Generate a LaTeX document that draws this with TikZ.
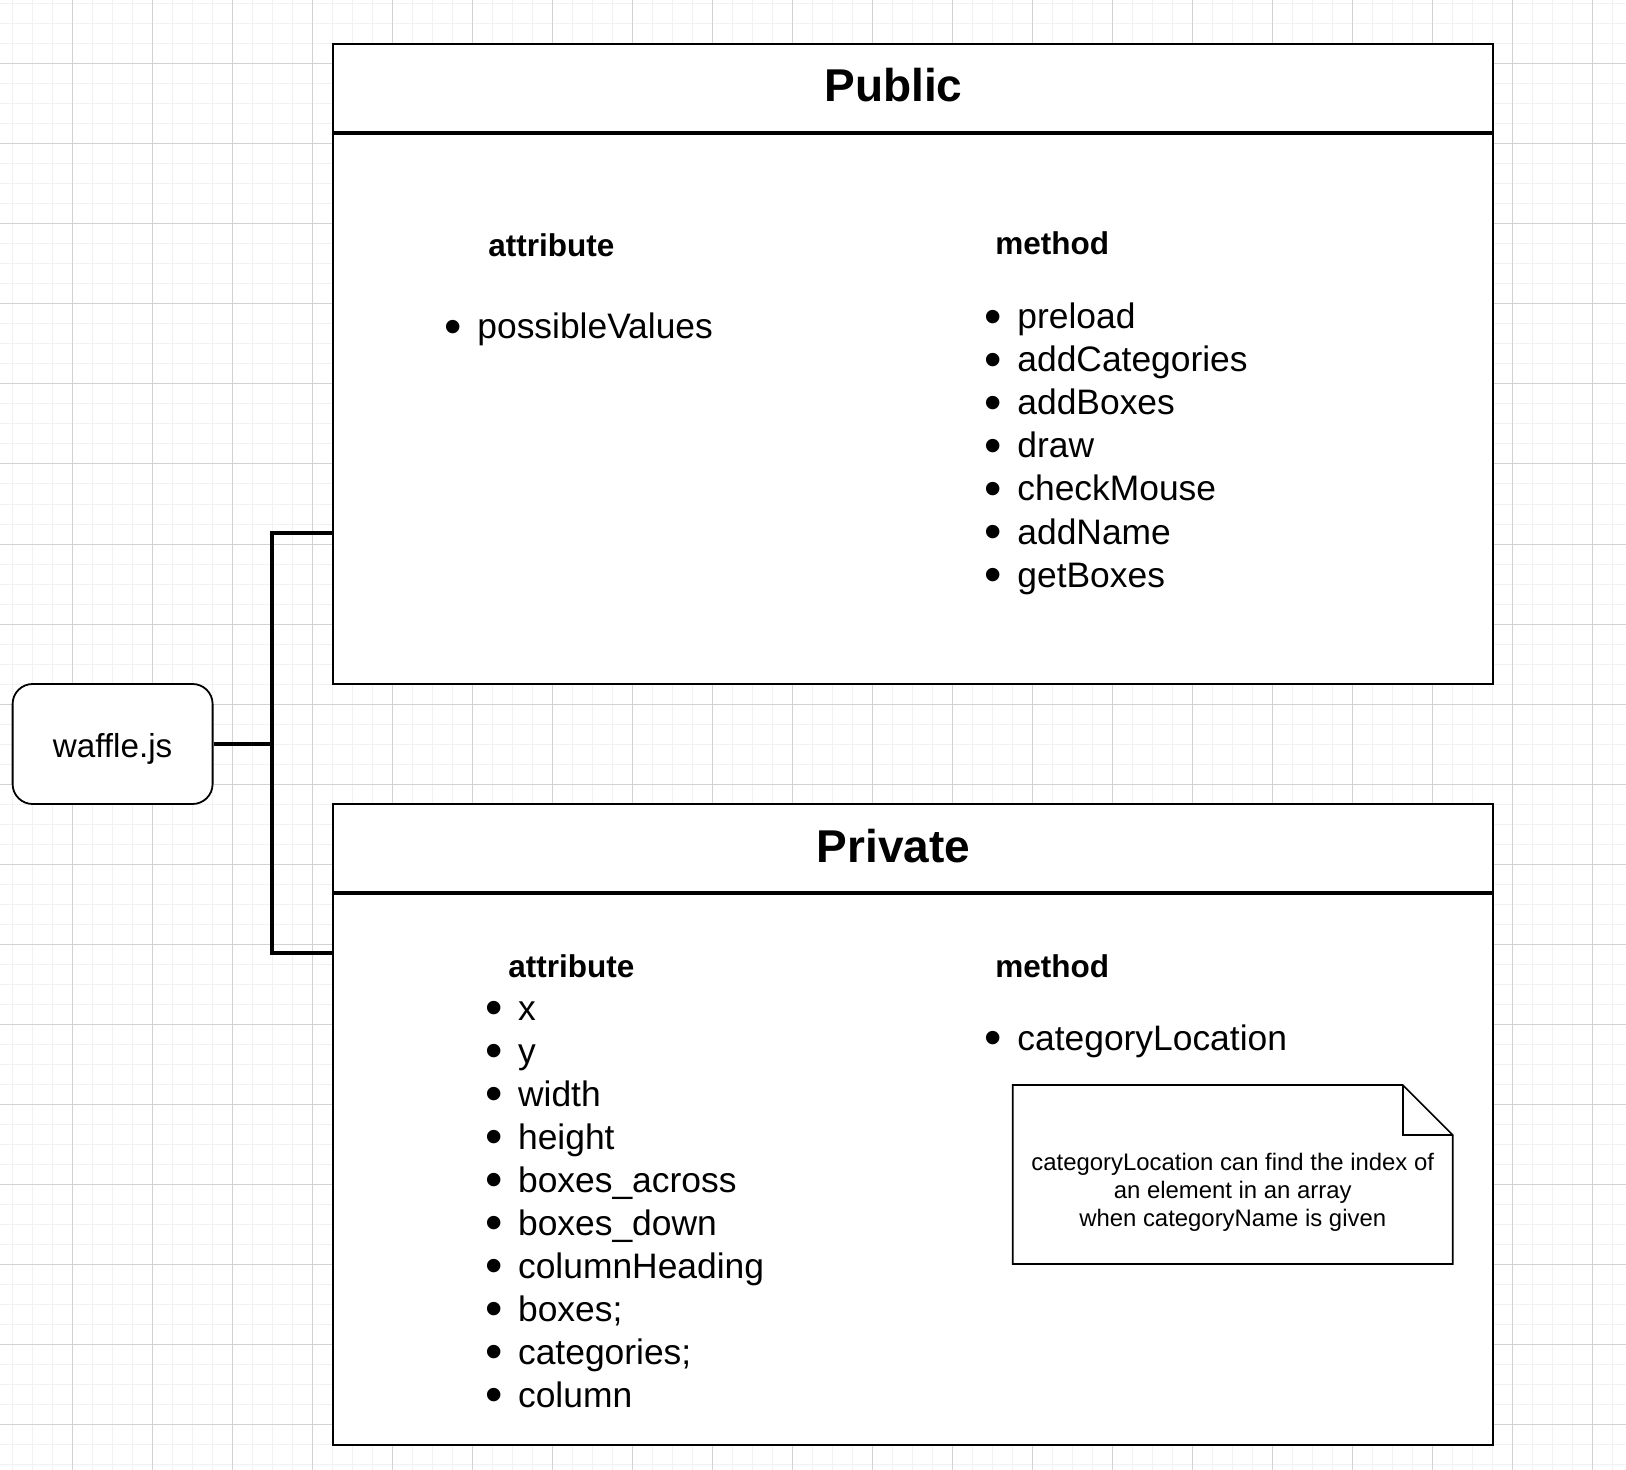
\documentclass[tikz,border=0pt]{standalone}
\usepackage{fontspec}
\setmainfont{Liberation Sans}
\usetikzlibrary{positioning}
\definecolor{gridminor}{RGB}{242,242,242}
\definecolor{gridmajor}{RGB}{210,210,210}
\newcommand{\bul}{\makebox[15.5pt][l]{\kern-0.9pt\smash{\raisebox{-0.13em}{\scalebox{1.4}{\textbullet}}}}}

\begin{document}
\begin{tikzpicture}[x=0.5pt,y=-0.5pt,
  panel/.style={draw,line width=0.95pt,fill=white,minimum width=580pt,inner sep=0pt},
  headline/.style={line width=1.9pt},
  title/.style={anchor=base,inner sep=0pt,yshift=-0.5pt,font=\fontsize{23}{27}\selectfont\bfseries},
  heading/.style={anchor=base west,inner sep=0pt,yshift=-1pt,font=\fontsize{15.75}{19}\selectfont\bfseries},
  entry/.style={anchor=base west,inner sep=0pt,yshift=-1pt,font=\fontsize{17.7}{21.5}\selectfont},
  link/.style={line width=1.8pt}]
\useasboundingbox (0,0) rectangle (1626,1470);
\fill[white] (0,0) rectangle (1626,1470);
\foreach \x in {12.5,32.5,...,1626} \draw[gridminor,line width=0.5pt] (\x,0) -- (\x,1470);
\foreach \y in {4,24,...,1470} \draw[gridminor,line width=0.5pt] (0,\y) -- (1626,\y);
\foreach \x in {72.5,152.5,...,1626} \draw[gridmajor,line width=0.5pt] (\x,0) -- (\x,1470);
\foreach \y in {64,144,...,1470} \draw[gridmajor,line width=0.5pt] (0,\y) -- (1626,\y);

% the two panels
\node[panel,minimum height=320pt] (pub) at (913,364) {};
\node[panel,minimum height=320.5pt] (priv) at (913,1124.5) {};
\draw[headline] ([yshift=-45pt]pub.north west) -- ([yshift=-45pt]pub.north east);
\draw[headline] ([yshift=-45pt]priv.north west) -- ([yshift=-45pt]priv.north east);

% file box and its links
\node[draw,fill=white,rounded corners=10pt,line width=0.9pt,minimum width=100pt,minimum height=60pt,
  text height=16pt,text depth=3pt,font=\fontsize{16.6}{20}\selectfont] (waffle) at (112.6,744) {waffle.js};
\coordinate (fork) at (272,744);
\coordinate (pubin) at (333,533);
\coordinate (privin) at (333,953);
\draw[link] (waffle.east) -- (fork);
\draw[link] (pubin) -| (fork) |- (privin);

% public
\node[title] (pubtitle) at (893.5,101) {Public};
\node[heading] (pubattr) at (488,255) {attribute};
\node[entry] (pubval) at (446,337) {\bul possibleValues};
\node[heading] (pubmeth) at (995,253) {method};
\node[entry] (pubm1) at (986,327) {\bul preload};
\node[entry] (pubm2) at (986,370) {\bul addCategories};
\node[entry] (pubm3) at (986,413) {\bul addBoxes};
\node[entry] (pubm4) at (986,456) {\bul draw};
\node[entry] (pubm5) at (986,499) {\bul checkMouse};
\node[entry] (pubm6) at (986,542) {\bul addName};
\node[entry] (pubm7) at (986,585) {\bul getBoxes};

% private
\node[title] (privtitle) at (893.5,861.7) {Private};
\node[heading] (privattr) at (508,975) {attribute};
\node[entry] (priva1) at (486.7,1018) {\bul x};
\node[entry] (priva2) at (486.7,1061) {\bul y};
\node[entry] (priva3) at (486.7,1104) {\bul width};
\node[entry] (priva4) at (486.7,1147) {\bul height};
\node[entry] (priva5) at (486.7,1190) {\bul boxes\_across};
\node[entry] (priva6) at (486.7,1233) {\bul boxes\_down};
\node[entry] (priva7) at (486.7,1276) {\bul columnHeading};
\node[entry] (priva8) at (486.7,1319) {\bul boxes;};
\node[entry] (priva9) at (486.7,1362) {\bul categories;};
\node[entry] (priva10) at (486.7,1405) {\bul column};
\node[heading] (privmeth) at (995,975.7) {method};
\node[entry] (privm1) at (986,1048.3) {\bul categoryLocation};

% note
\draw[line width=0.85pt,fill=white] (1012.7,1085) -- (1402.7,1085) -- (1452.7,1135) -- (1452.7,1264) -- (1012.7,1264) -- cycle;
\draw[line width=0.85pt] (1402.7,1085) -- (1402.7,1135) -- (1452.7,1135);
\node[align=center,inner sep=0pt,font=\fontsize{11.95}{14}\selectfont] (note) at (1232.7,1192)
  {categoryLocation can find the index of\\an element in an array\\when categoryName is given};
\end{tikzpicture}
\end{document}
